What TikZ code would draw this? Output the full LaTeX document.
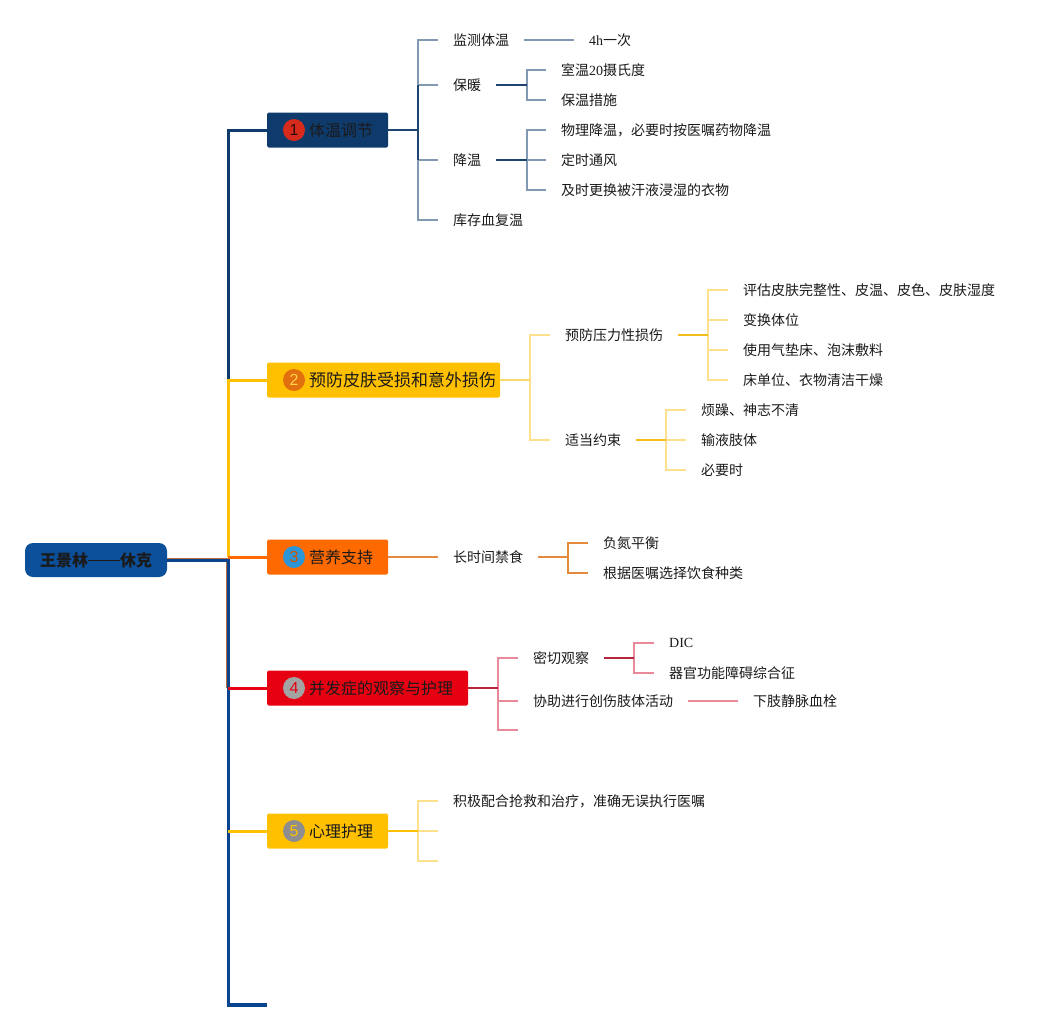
\documentclass[tikz,border=0pt]{standalone}
\usepackage{fontspec}
\setmainfont{Noto Sans CJK SC}
\newfontfamily\latn{Liberation Serif}
\newfontfamily\numf{Liberation Sans}
\definecolor{navy}{HTML}{0F3B6C}
\definecolor{navyl}{HTML}{8299B4}
\definecolor{navys}{HTML}{1D456F}
\definecolor{gold}{HTML}{FFC000}
\definecolor{goldl}{HTML}{FDE08C}
\definecolor{golds}{HTML}{F3BD1C}
\definecolor{orng}{HTML}{FF6A00}
\definecolor{orngl}{HTML}{E58A3A}
\definecolor{rd}{HTML}{E60012}
\definecolor{rds}{HTML}{B8243C}
\definecolor{rdl}{HTML}{E9899A}
\definecolor{rootb}{HTML}{0C4F9A}
\definecolor{spineb}{HTML}{0B448E}
\definecolor{brn}{HTML}{B86B3E}
\definecolor{txt}{HTML}{1A1A1A}
\definecolor{c1}{HTML}{D62B1C}
\definecolor{c2}{HTML}{E2700E}
\definecolor{c3}{HTML}{2B95D6}
\definecolor{c4}{HTML}{A3A3A3}
\definecolor{c5}{HTML}{8E8E8E}
\begin{document}
\begin{tikzpicture}[x=1pt,y=-1pt,
  lf/.style={anchor=west,inner xsep=15pt,inner ysep=2pt,font=\fontsize{14}{16}\selectfont,text=txt},
  tbox/.style={anchor=west,minimum height=35pt,inner sep=0pt,rounded corners=1.5pt},
  numc/.style={circle,minimum size=22pt,inner sep=0pt,font=\numf\fontsize{16}{18}\selectfont},
  ttext/.style={anchor=west,inner sep=1pt,font=\fontsize{16}{18}\selectfont,text=txt},
  spine/.style={line width=3pt},
  stem/.style={line width=1.5pt},
  br/.style={line width=1.2pt}]
\useasboundingbox (0,0) rectangle (1055,1031);

% ---------- spine coordinates ----------
\coordinate (s1) at (228,130);
\coordinate (s2) at (228,380);
\coordinate (s3) at (228,557);
\coordinate (s4) at (228,688);
\coordinate (s5) at (228,831);
\coordinate (s6) at (228,1005);
\coordinate (se) at (267,1005);

% ---------- root ----------
\node[fill=rootb,rounded corners=8pt,minimum width=142pt,minimum height=34pt,inner sep=0pt,
      font=\bfseries\fontsize{16}{18}\selectfont,text=txt] (root) at (96,560)
      {王景林\rule[0.33em]{2em}{0.07em}休克};

% ---------- spine lines ----------
\draw[line width=4.5pt,brn] (root.east) -| (s4);
\draw[spine,navy] (s2) -- (s1) -- (267,130);
\draw[spine,gold] (s3) -- (s2) -- (267,380);
\draw[spine,orng] (s3) -- (267,557);
\draw[line width=3pt,spineb] (root.east) -| (s6);
\draw[line width=4pt,spineb] (226.5,1005) -- (se);
\draw[spine,rd] (s4) -- (267,688);
\draw[spine,gold] (s5) -- (267,831);

% ---------- topic boxes ----------
\node[tbox,fill=navy,minimum width=121pt] (t1) at (267,130) {};
\node[numc,fill=c1,text=black!80!c1] (n1) at (294,130) {1};
\node[ttext] (x1) at (308,130) {体温调节};

\node[tbox,fill=gold,minimum width=233pt] (t2) at (267,380) {};
\node[numc,fill=c2,text=gold!70!white] (n2) at (294,380) {2};
\node[ttext,font=\fontsize{17}{19}\selectfont] (x2) at (308,380) {预防皮肤受损和意外损伤};

\node[tbox,fill=orng,minimum width=121pt] (t3) at (267,557) {};
\node[numc,fill=c3,text=orng!80!black] (n3) at (294,557) {3};
\node[ttext] (x3) at (308,557) {营养支持};

\node[tbox,fill=rd,minimum width=201pt] (t4) at (267,688) {};
\node[numc,fill=c4,text=rd] (n4) at (294,688) {4};
\node[ttext] (x4) at (308,688) {并发症的观察与护理};

\node[tbox,fill=gold,minimum width=121pt] (t5) at (267,831) {};
\node[numc,fill=c5,text=gold] (n5) at (294,831) {5};
\node[ttext] (x5) at (308,831) {心理护理};

% ---------- topic 1 ----------
\node[lf] (l1a) at (438,40) {监测体温};
\node[lf] (l1b) at (438,85) {保暖};
\node[lf] (l1c) at (438,160) {降温};
\node[lf] (l1d) at (438,220) {库存血复温};
\node[lf] (l1a1) at (574,40) {{\latn 4h}一次};
\node[lf] (l1b1) at (546,70) {室温{\latn 20}摄氏度};
\node[lf] (l1b2) at (546,100) {保温措施};
\node[lf] (l1c1) at (546,130) {物理降温，必要时按医嘱药物降温};
\node[lf] (l1c2) at (546,160) {定时通风};
\node[lf] (l1c3) at (546,190) {及时更换被汗液浸湿的衣物};

\coordinate (j1) at (418,130);
\foreach \c in {l1a,l1b,l1c,l1d} \draw[br,navyl] (j1) |- (\c.west);
\draw[stem,navys] (t1.east) -- (j1) -- (418,85) (j1) -- (418,160);
\draw[br,navyl] (l1a.east) -- (l1a1.west);
\coordinate (j1b) at (527,85);
\foreach \c in {l1b1,l1b2} \draw[br,navyl] (j1b) |- (\c.west);
\draw[stem,navys] (l1b.east) -- (j1b);
\coordinate (j1c) at (527,160);
\foreach \c in {l1c1,l1c2,l1c3} \draw[br,navyl] (j1c) |- (\c.west);
\draw[stem,navys] (l1c.east) -- (j1c);

% ---------- topic 2 ----------
\node[lf] (l2a) at (550,335) {预防压力性损伤};
\node[lf] (l2b) at (550,440) {适当约束};
\node[lf] (l2a1) at (728,290) {评估皮肤完整性、皮温、皮色、皮肤湿度};
\node[lf] (l2a2) at (728,320) {变换体位};
\node[lf] (l2a3) at (728,350) {使用气垫床、泡沫敷料};
\node[lf] (l2a4) at (728,380) {床单位、衣物清洁干燥};
\node[lf] (l2b1) at (686,410) {烦躁、神志不清};
\node[lf] (l2b2) at (686,440) {输液肢体};
\node[lf] (l2b3) at (686,470) {必要时};

\coordinate (j2) at (530,380);
\foreach \c in {l2a,l2b} \draw[br,goldl] (j2) |- (\c.west);
\draw[stem,goldl!80!gold] (t2.east) -- (j2);
\coordinate (j2a) at (708,335);
\foreach \c in {l2a1,l2a2,l2a3,l2a4} \draw[br,goldl] (j2a) |- (\c.west);
\draw[stem,golds] (l2a.east) -- (j2a);
\coordinate (j2b) at (666,440);
\foreach \c in {l2b1,l2b2,l2b3} \draw[br,goldl] (j2b) |- (\c.west);
\draw[stem,golds] (l2b.east) -- (j2b);

% ---------- topic 3 ----------
\node[lf] (l3a) at (438,557) {长时间禁食};
\node[lf] (l3a1) at (588,543) {负氮平衡};
\node[lf] (l3a2) at (588,573) {根据医嘱选择饮食种类};
\draw[br,orngl] (t3.east) -- (l3a.west);
\coordinate (j3) at (568,557);
\foreach \c in {l3a1,l3a2} \draw[br,orngl] (j3) |- (\c.west);
\draw[br,orngl] (l3a.east) -- (j3);

% ---------- topic 4 ----------
\node[lf] (l4a) at (518,658) {密切观察};
\node[lf] (l4b) at (518,701) {协助进行创伤肢体活动};
\coordinate (l4c) at (518,730);
\node[lf] (l4a1) at (654,643) {\latn DIC};
\node[lf] (l4a2) at (654,673) {器官功能障碍综合征};
\node[lf] (l4b1) at (738,701) {下肢静脉血栓};

\coordinate (j4) at (498,688);
\draw[br,rdl] (j4) |- (l4a.west);
\draw[br,rdl] (j4) |- (l4b.west);
\draw[br,rdl] (j4) |- (l4c);
\draw[stem,rds] (t4.east) -- (j4);
\coordinate (j4a) at (634,658);
\foreach \c in {l4a1,l4a2} \draw[br,rdl] (j4a) |- (\c.west);
\draw[stem,rds] (l4a.east) -- (j4a);
\draw[br,rdl] (l4b.east) -- (l4b1.west);

% ---------- topic 5 ----------
\node[lf] (l5a) at (438,801) {积极配合抢救和治疗，准确无误执行医嘱};
\coordinate (l5b) at (438,831);
\coordinate (l5c) at (438,861);
\coordinate (j5) at (418,831);
\draw[br,goldl] (j5) |- (l5a.west);
\draw[br,goldl] (j5) -- (l5b);
\draw[br,goldl] (j5) |- (l5c);
\draw[stem,gold] (t5.east) -- (j5);
\end{tikzpicture}
\end{document}
